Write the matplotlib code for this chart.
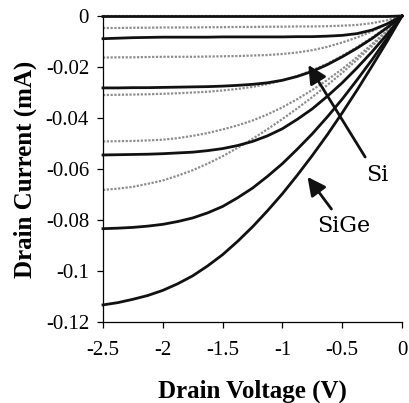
import numpy as np
import matplotlib
matplotlib.use("Agg")
import matplotlib.pyplot as plt

# Drain voltage sample points (V)
vd = [-2.5, -2.375, -2.25, -2.125, -2.0, -1.875, -1.75, -1.625, -1.5, -1.375, -1.25,
      -1.125, -1.0, -0.875, -0.75, -0.625, -0.5, -0.375, -0.25, -0.125, 0.0]

# SiGe device curves (mA), solid black
sige_1 = [-0.0002] * 20 + [0.0]
sige_2 = [-0.0089, -0.0087, -0.0085, -0.0084, -0.0083, -0.0083, -0.0083, -0.0083, -0.0082, -0.0082, -0.0082,
          -0.0082, -0.0082, -0.0081, -0.0081, -0.0079, -0.0076, -0.0069, -0.0055, -0.0031, 0.0]
sige_3 = [-0.0282, -0.0282, -0.0281, -0.0281, -0.0280, -0.0279, -0.0278, -0.0277, -0.0275, -0.0272, -0.0268,
          -0.0262, -0.0252, -0.0237, -0.0217, -0.0191, -0.0160, -0.0126, -0.0088, -0.0046, 0.0]
sige_4 = [-0.0545, -0.0544, -0.0543, -0.0542, -0.0540, -0.0537, -0.0534, -0.0528, -0.0520, -0.0508, -0.0492,
          -0.0470, -0.0442, -0.0405, -0.0364, -0.0315, -0.0262, -0.0203, -0.0140, -0.0072, 0.0]
sige_5 = [-0.0834, -0.0832, -0.0829, -0.0824, -0.0817, -0.0806, -0.0792, -0.0772, -0.0747, -0.0713, -0.0675,
          -0.0629, -0.0579, -0.0522, -0.0462, -0.0396, -0.0326, -0.0250, -0.0171, -0.0087, 0.0]
sige_6 = [-0.1133, -0.1124, -0.1111, -0.1096, -0.1076, -0.1050, -0.1019, -0.0980, -0.0936, -0.0884, -0.0827,
          -0.0764, -0.0697, -0.0624, -0.0547, -0.0466, -0.0380, -0.0290, -0.0196, -0.0100, 0.0]

# Si device curves (mA), grey dotted
si_1 = [0.0] * 21
si_2 = [-0.0047, -0.0047, -0.0046, -0.0046, -0.0045, -0.0045, -0.0045, -0.0044, -0.0044, -0.0043, -0.0043,
        -0.0042, -0.0042, -0.0041, -0.0041, -0.0040, -0.0038, -0.0035, -0.0028, -0.0017, 0.0]
si_3 = [-0.0163, -0.0162, -0.0162, -0.0161, -0.0160, -0.0160, -0.0160, -0.0159, -0.0158, -0.0157, -0.0155,
        -0.0153, -0.0149, -0.0143, -0.0134, -0.0121, -0.0104, -0.0084, -0.0060, -0.0032, 0.0]
si_4 = [-0.0310, -0.0309, -0.0308, -0.0307, -0.0305, -0.0303, -0.0300, -0.0297, -0.0292, -0.0286, -0.0278,
        -0.0267, -0.0253, -0.0235, -0.0213, -0.0187, -0.0156, -0.0122, -0.0084, -0.0044, 0.0]
si_5 = [-0.0492, -0.0491, -0.0490, -0.0488, -0.0485, -0.0479, -0.0470, -0.0459, -0.0445, -0.0429, -0.0410,
        -0.0386, -0.0358, -0.0326, -0.0290, -0.0251, -0.0208, -0.0161, -0.0110, -0.0057, 0.0]
si_6 = [-0.0682, -0.0677, -0.0670, -0.0658, -0.0645, -0.0626, -0.0605, -0.0579, -0.0550, -0.0517, -0.0482,
        -0.0444, -0.0404, -0.0362, -0.0318, -0.0271, -0.0223, -0.0171, -0.0118, -0.0060, 0.0]

sige_curves = [sige_1, sige_2, sige_3, sige_4, sige_5, sige_6]
si_curves = [si_1, si_2, si_3, si_4, si_5, si_6]

xticks = [-2.5, -2.0, -1.5, -1.0, -0.5, 0.0]
xticklabels = ["-2.5", "-2", "-1.5", "-1", "-0.5", "0"]
yticks = [0.0, -0.02, -0.04, -0.06, -0.08, -0.1, -0.12]
yticklabels = ["0", "-0.02", "-0.04", "-0.06", "-0.08", "-0.1", "-0.12"]

plt.rcParams['font.family'] = ['Liberation Serif', 'DejaVu Serif']

fig = plt.figure(figsize=(4.10, 4.03), dpi=100)
ax = fig.add_axes([0.2512, 0.201, 0.7293, 0.7593])

for c in si_curves:
    ax.plot(vd, c, color='#8c8c8c', lw=1.6, linestyle=(0, (1.0, 0.7)), clip_on=False, zorder=2)
for c in sige_curves:
    ax.plot(vd, c, color='#111111', lw=2.0, linestyle='-', clip_on=False, zorder=3,
            solid_joinstyle='round')

ax.set_xlim(-2.5, 0)
ax.set_ylim(-0.12, 0)
ax.set_xticks(xticks)
ax.set_xticklabels(xticklabels)
ax.set_yticks(yticks)
ax.set_yticklabels(yticklabels)

ax.spines['top'].set_visible(False)
ax.spines['right'].set_visible(False)
for s in ['left', 'bottom']:
    ax.spines[s].set_linewidth(0.9)
ax.tick_params(axis='both', direction='out', length=4, width=0.9, labelsize=15)
ax.tick_params(axis='x', pad=10)
ax.tick_params(axis='y', pad=6)

ax.set_xlabel("Drain Voltage (V)", fontsize=18, fontweight='bold', labelpad=14)
ax.set_ylabel("Drain Current (mA)", fontsize=18, fontweight='bold', labelpad=6)

arrow_kw = dict(arrowstyle='-|>,head_length=1.1,head_width=0.55', color='#111111', lw=2.0,
                shrinkA=0, shrinkB=0)
ax.annotate("", xy=(-0.783, -0.0192), xytext=(-0.308, -0.0553), arrowprops=arrow_kw, zorder=5)
ax.annotate("", xy=(-0.79, -0.0631), xytext=(-0.59, -0.0757), arrowprops=arrow_kw, zorder=5)
ax.text(-0.205, -0.0624, "Si", fontsize=16, family='DejaVu Serif', ha='center', va='center')
ax.text(-0.49, -0.0822, "SiGe", fontsize=16, family='DejaVu Serif', ha='center', va='center')

fig.savefig("out.png", dpi=100)
